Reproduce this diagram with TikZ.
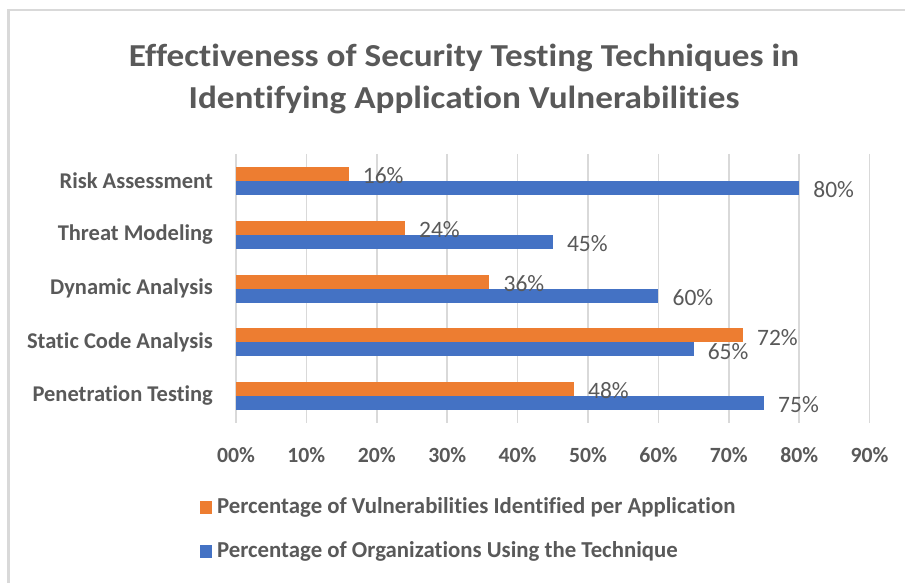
\documentclass[tikz,border=0pt]{standalone}
\usepackage{fontspec}
\setmainfont{Carlito}[Ligatures={NoCommon,NoRare}]
\definecolor{txtgray}{HTML}{595959}
\definecolor{gridgray}{HTML}{D9D9D9}
\definecolor{framegray}{HTML}{D9D9D9}
\definecolor{barorange}{HTML}{ED7D31}
\definecolor{barblue}{HTML}{4472C4}
\tikzset{
  titletext/.style={text=txtgray, font=\fontsize{32}{38}\selectfont\bfseries, inner sep=0pt},
  cattext/.style={text=txtgray, font=\fontsize{22.5}{26}\selectfont\bfseries, anchor=east, inner sep=0pt},
  ticktext/.style={text=txtgray, font=\fontsize{21.7}{26}\selectfont\bfseries, inner sep=0pt},
  valtext/.style={text=txtgray, font=\fontsize{23.5}{28}\selectfont, anchor=west, inner sep=0pt},
  legtext/.style={text=txtgray, font=\fontsize{22.8}{27}\selectfont\bfseries, anchor=west, inner sep=0pt},
  gridline/.style={draw=gridgray, line width=1.6pt},
  obar/.style={fill=barorange},
  bbar/.style={fill=barblue},
}
\begin{document}
\begin{tikzpicture}[x=1pt,y=-1pt]
\useasboundingbox (0,0) rectangle (905,583);
\fill[white] (0,0) rectangle (905,583);
\draw[framegray, line width=2.2pt] (8.5,583) -- (8.5,10) -- (905,10);
% title
\node[titletext] (t1) at (464,58) {\scalebox{1.1}[1]{Effectiveness of Security Testing Techniques in}};
\node[titletext] (t2) at (464,100) {\scalebox{1.1}[1]{Identifying Application Vulnerabilities}};
% grid
\foreach \k in {0,...,9} {
  \draw[gridline] (236+70.4*\k,154) -- (236+70.4*\k,423);
  \node[ticktext] (tick\k) at (236+70.4*\k,455) {\k0\%};
}
% bars: name/orange/blue
\foreach \i/\name/\o/\b in {0/Risk Assessment/16/80, 1/Threat Modeling/24/45, 2/Dynamic Analysis/36/60, 3/Static Code Analysis/72/65, 4/Penetration Testing/48/75} {
  \pgfmathsetmacro{\c}{181+53.75*\i}
  \fill[obar] (236,\c-14) rectangle (236+7.04*\o,\c);
  \fill[bbar] (236,\c) rectangle (236+7.04*\b,\c+14);
  \node[cattext] (cat\i) at (213,\c) {\name};
  \node[valtext] (ov\i) at (236+7.04*\o+14,\c-5) {\o\%};
  \node[valtext] (bv\i) at (236+7.04*\b+14,\c+9) {\b\%};
}
% legend
\fill[barorange] (200,501) rectangle (212,514);
\node[legtext] (leg1) at (217,507) {Percentage of Vulnerabilities Identified per Application};
\fill[barblue] (200,545) rectangle (212,558);
\node[legtext] (leg2) at (217,551) {Percentage of Organizations Using the Technique};
\end{tikzpicture}
\end{document}
